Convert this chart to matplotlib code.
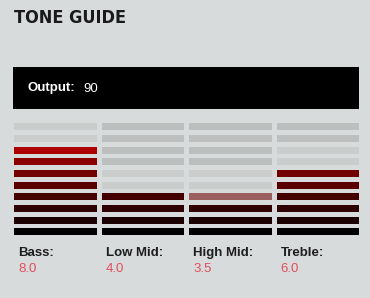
import numpy as np
import matplotlib
matplotlib.use("Agg")
import matplotlib.pyplot as plt
from matplotlib.colors import to_rgb

# ---- data ----
bands = ["Bass:", "Low Mid:", "High Mid:", "Treble:"]
values = [8.0, 4.0, 3.5, 6.0]
output_level = 90
n_segments = 10
# segment colour for levels 1 (bottom) .. 10
level_colors = ["#000000", "#1a0000", "#2f0000", "#440000",
                "#5a0000", "#720000", "#8c0000", "#ad0000",
                "#c00000", "#d00000"]

BG = "#d7dbdb"
GREY_NEAR = "#cbcccc"
GREY_FAR = "#bdbebe"

fig = plt.figure(figsize=(3.70, 2.98), dpi=100, facecolor=BG)
ax = fig.add_axes([0, 0, 1, 1])
ax.set_xlim(0, 370)
ax.set_ylim(298, 0)
ax.axis("off")

# title
ax.text(14, 18, "TONE GUIDE", fontsize=13, fontweight="bold", color="#1a1a1a",
        family="DejaVu Sans", fontstretch="condensed", va="center", ha="left")

# output box
ax.add_patch(plt.Rectangle((13, 67), 346, 42, color="black", lw=0))
ax.text(27, 88.5, "Output:", fontsize=9.5, fontweight="bold", color="white",
        family=["Liberation Sans", "DejaVu Sans"], va="center")
ax.text(83, 88.5, str(output_level), fontsize=9.5, color="white",
        family=["Liberation Sans", "DejaVu Sans"], va="center")

# meter columns
col_left = 14
col_w = 82.5
col_gap = 5.0
seg_h = 7.0
seg_step = 11.67
bottom_top = 228.3

for i, (name, v) in enumerate(zip(bands, values)):
    x0 = col_left + i * (col_w + col_gap)
    full = int(np.floor(v))
    for k in range(1, n_segments + 1):
        if k <= full:
            c = level_colors[k - 1]
        elif k - 0.5 <= v:
            a = np.array(to_rgb(level_colors[k - 1]))
            g = np.array(to_rgb(GREY_NEAR))
            c = tuple(0.35 * a + 0.65 * g * np.array([1.0, 0.72, 0.72]))
        elif k <= np.ceil(v) + 2:
            c = GREY_NEAR
        else:
            c = GREY_FAR
        y = bottom_top - (k - 1) * seg_step
        ax.barh(y + seg_h / 2, col_w, height=seg_h, left=x0, color=c, lw=0)
    ax.text(x0 + 4, 253, name, fontsize=9.5, fontweight="bold", color="#1e1e1e",
            family=["Liberation Sans", "DejaVu Sans"], va="center")
    ax.text(x0 + 4, 269.5, f"{v:.1f}", fontsize=9.5, color="#e0505c",
            family=["Liberation Sans", "DejaVu Sans"], va="center")

fig.savefig("out.png", dpi=100, facecolor=BG)
